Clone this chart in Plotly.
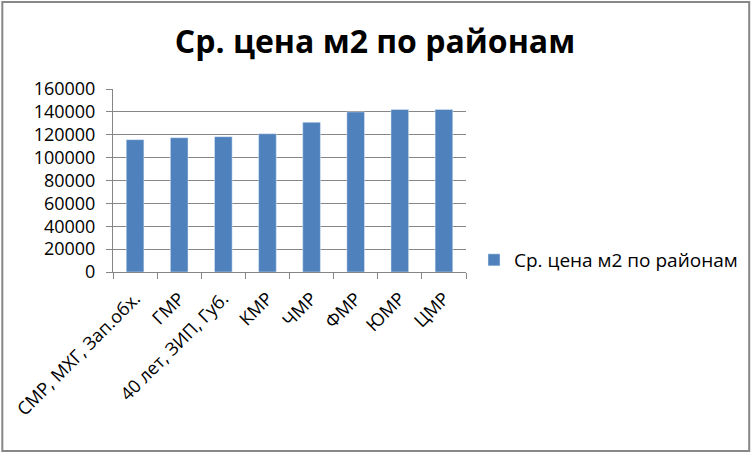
import plotly.graph_objects as go

# Districts and average price per m2
districts = ["СМР, МХГ, Зап.обх.", "ГМР", "40 лет, ЗИП, Губ.", "КМР",
             "ЧМР", "ФМР", "ЮМР", "ЦМР"]
avg_price = [115700, 117400, 118300, 120900, 130900, 140000, 142100, 142100]

series_name = "Ср. цена м2 по районам"
y_ticks = list(range(0, 160001, 20000))

# plot area in pixels (left, right, top, bottom)
L, R, T, B = 113, 467, 89, 272
W, H = 754, 454
pw, ph = R - L, B - T

fig = go.Figure(go.Bar(
    x=districts,
    y=avg_price,
    name=series_name,
    marker_color="#4F81BD",
    showlegend=True,
))

grid = "#868686"
fig.update_layout(
    width=W, height=H,
    margin=dict(l=L, r=W - R, t=T, b=H - B),
    paper_bgcolor="white",
    plot_bgcolor="white",
    bargap=0.6,
    font=dict(family="Open Sans, Noto Sans, sans-serif", size=18, color="black"),
    title=dict(
        text=series_name,
        x=375 / W, xref="container", xanchor="center",
        y=1 - 42 / H, yref="container", yanchor="middle",
        font=dict(size=32, weight="bold"),
    ),
    legend=dict(x=(474 - L) / pw, y=(B - 260) / ph, xanchor="left", yanchor="middle",
                font=dict(size=19), bgcolor="rgba(0,0,0,0)"),
    # outer chart border
    shapes=[dict(type="rect", xref="paper", yref="paper",
                 x0=(2 - L) / pw, x1=(751 - L) / pw,
                 y0=(B - 451) / ph, y1=(B - 2) / ph,
                 line=dict(color="#878787", width=2))],
)
fig.update_xaxes(
    type="category",
    tickangle=-45,
    ticks="outside", ticklen=6, tickcolor=grid,
    tickson="boundaries",
    ticklabelstandoff=8,
    showline=True, linecolor=grid, linewidth=1,
    showgrid=False,
)
fig.update_yaxes(
    range=[0, 160000],
    tickvals=y_ticks,
    tickformat="d",
    ticks="outside", ticklen=6, tickcolor=grid,
    ticklabelstandoff=7,
    showline=True, linecolor=grid, linewidth=1,
    showgrid=True, gridcolor=grid, gridwidth=1,
    zeroline=False,
)

fig.write_html("out.html", config={"displayModeBar": False},
               post_script="document.body.style.margin='0';")
